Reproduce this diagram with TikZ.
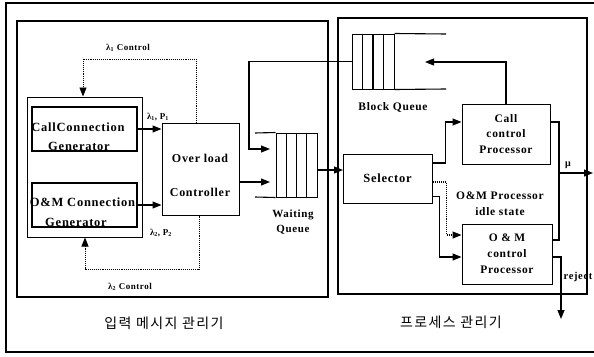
\documentclass[tikz,border=0pt]{standalone}
\usepackage{fontspec}
\setmainfont{Liberation Serif}[LetterSpace=6]
\newfontfamily\kr[LetterSpace=10]{Noto Sans CJK KR}
\usetikzlibrary{arrows.meta}
\begin{document}
\begin{tikzpicture}[x=1pt,y=-1pt,
  box/.style={draw, line width=1pt, inner sep=0pt, align=center},
  genstyle/.style={draw, line width=1.4pt, inner sep=0pt},
  panel/.style={draw, line width=1.1pt, inner sep=0pt},
  arr/.style={-{Triangle[length=9pt,width=7pt]}, line width=1.1pt},
  plain/.style={line width=1.1pt},
  ctrl/.style={densely dotted, line width=0.9pt},
  lbl/.style={inner sep=0pt, align=center, font=\bfseries\fontsize{12}{15.5}\selectfont},
  small/.style={inner sep=0pt, align=center, font=\bfseries\fontsize{9}{11}\selectfont},
  korean/.style={inner sep=0pt, font=\kr\fontsize{14}{16}\selectfont}]
\clip (0,0) rectangle (594,356);
\fill[white] (0,0) rectangle (594,356);
% outer frame
\draw[line width=1.2pt] (6,3) rectangle (640,352);
% panels
\node[panel, minimum width=311pt, minimum height=276pt] (leftpanel) at (172.5,159) {};
\node[panel, minimum width=249pt, minimum height=276pt] (rightpanel) at (462.5,156) {};
% generators
\node[box, minimum width=115pt, minimum height=140pt] (genbox) at (84.5,167) {};
\node[genstyle, minimum width=105pt, minimum height=44pt] (callgen) at (84.5,129) {};
\node[genstyle, minimum width=105pt, minimum height=44pt] (omgen) at (84.5,205) {};
\node[lbl, font=\bfseries\fontsize{12.5}{15}\selectfont] (cg1) at (78,127) {CallConnection};
\node[lbl, font=\bfseries\fontsize{12.5}{15}\selectfont] (cg2) at (79,146) {Generator};
\node[lbl, font=\bfseries\fontsize{12.5}{15}\selectfont] (og1) at (82.5,202) {O\&M Connection};
\node[lbl, font=\bfseries\fontsize{12.5}{15}\selectfont] (og2) at (76,222) {Generator};
% overload controller
\node[box, minimum width=77pt, minimum height=92pt] (overload) at (200.5,169) {};
\node[lbl] (ol1) at (200,158) {Over load};
\node[lbl] (ol2) at (200,192) {Controller};
% waiting queue
\node[box, minimum width=41pt, minimum height=64pt] (wq) at (296.5,165) {};
\draw[plain] (286.25,133) -- (286.25,197) (296.5,133) -- (296.5,197) (306.75,133) -- (306.75,197);
\draw[plain] (wq.north west) -- (255,133) (wq.south west) -- (255,197);
\node[lbl, font=\bfseries\fontsize{11}{15}\selectfont] (wqlabel) at (293,222) {Waiting\\Queue};
% block queue
\node[box, minimum width=42pt, minimum height=55pt] (bq) at (373,61.5) {};
\draw[plain] (362.5,34) -- (362.5,89) (373,34) -- (373,89) (383.5,34) -- (383.5,89);
\draw[plain] (bq.north east) -- (446,34) (bq.south east) -- (446,89);
\node[lbl, font=\bfseries\fontsize{11.5}{15}\selectfont] (bqlabel) at (393,107) {Block Queue};
% selector and processors
\node[box, minimum width=89pt, minimum height=49pt, font=\bfseries\fontsize{12.5}{15}\selectfont] (selector) at (387.5,178.5) {Selector};
\node[box, minimum width=88pt, minimum height=60pt, font=\bfseries\fontsize{11.5}{15.5}\selectfont] (callproc) at (506,134) {Call\\control\\Processor};
\node[box, minimum width=90pt, minimum height=60pt, font=\bfseries\fontsize{11.5}{16}\selectfont] (omproc) at (507,254) {O \& M\\control\\Processor};
\node[lbl, font=\bfseries\fontsize{11.5}{16}\selectfont] (idle) at (500,204) {O\&M Processor\\idle state};
% coordinates
\coordinate (wqlow) at (270,182);
\coordinate (wqhigh) at (270,149);
\coordinate (fbx) at (249,0);
\coordinate (selin) at (343,170);
\coordinate (bqin) at (425,62);
\coordinate (muout) at (593,173);
\coordinate (mujoin) at (559,173);
\coordinate (rejout) at (561,319);
\coordinate (c1) at (83,59);
\coordinate (c2) at (85,269);
% connectors
\draw[arr] (callgen.east) -- (callgen.east -| overload.west);
\draw[arr] (omgen.east) -- (omgen.east -| overload.west);
\draw[arr] (overload.east |- wqlow) -- (wqlow);
\draw[arr] (wq.east |- selin) -- (selin);
\draw[arr] (bq.west) -- (bq.west -| fbx) |- (wqhigh);
\draw[arr] (callproc.north) |- (bqin);
\draw[arr] ([yshift=15.5pt]selector.east) -- ++(13,0) |- ([yshift=12pt]callproc.west);
\draw[arr, densely dotted] ([yshift=-3.5pt]selector.east) -- ++(14,0) |- ([yshift=19pt]omproc.west);
\draw[arr] ([yshift=-18pt]selector.east) -- ++(7,0) |- ([yshift=-3pt]omproc.west);
\draw[arr] ([yshift=12pt]callproc.east) -| (mujoin) -- (muout);
\draw[plain] ([yshift=14pt]omproc.east) -| (mujoin);
\draw[arr] ([yshift=-3pt]omproc.east) -| (rejout);
\draw[ctrl, -{Triangle[length=9pt,width=7pt]}] ([xshift=-4.5pt]overload.north) |- (c1) -- (c1 |- genbox.north);
\draw[ctrl, -{Triangle[length=9pt,width=7pt]}] ([xshift=-1.5pt]overload.south) |- (c2) -- (c2 |- genbox.south);
% labels
\node[small] (l1ctrl) at (128,48) {λ\textsubscript{1} Control};
\node[small] (l2ctrl) at (130,287) {λ\textsubscript{2} Control};
\node[small] (lp1) at (158,117) {λ\textsubscript{1}, P\textsubscript{1}};
\node[small] (lp2) at (161,233) {λ\textsubscript{2}, P\textsubscript{2}};
\node[small, font=\bfseries\fontsize{10}{12}\selectfont] (mu) at (568,165) {μ};
\node[lbl, anchor=east, font=\bfseries\fontsize{10.5}{13}\selectfont] (reject) at (592.5,277) {reject};
\node[korean] (kr1) at (164,323) {입력 메시지 관리기};
\node[korean] (kr2) at (451,322) {프로세스 관리기};
\end{tikzpicture}
\end{document}
